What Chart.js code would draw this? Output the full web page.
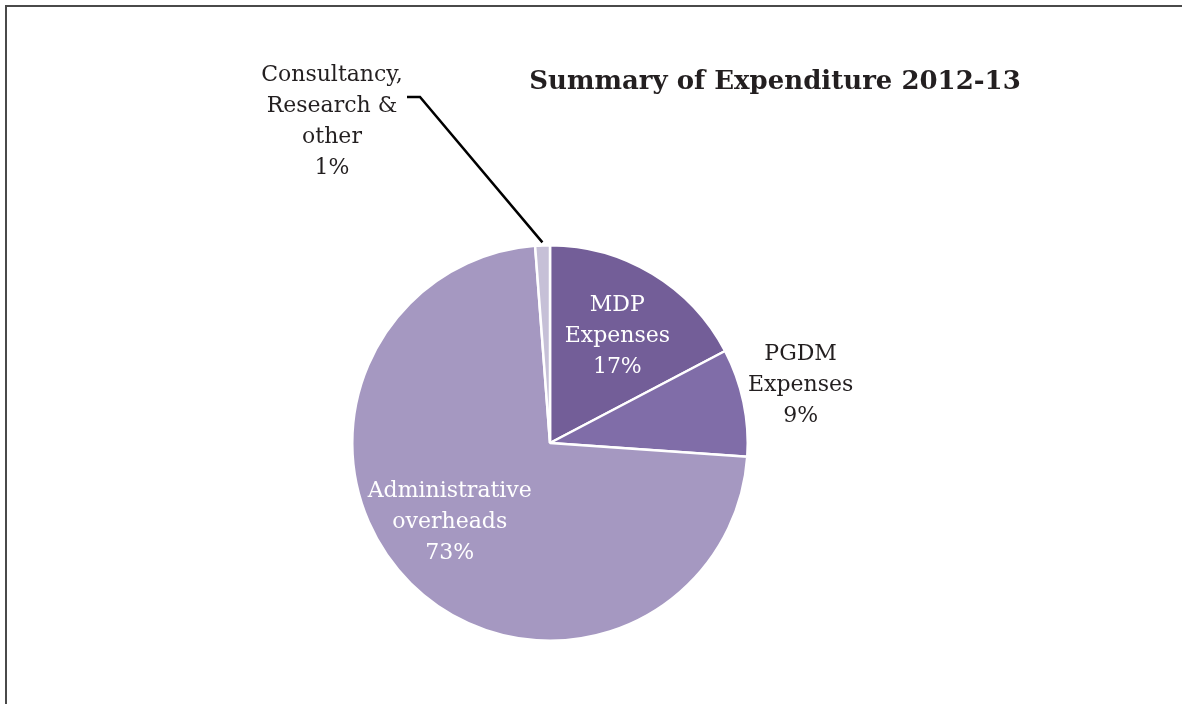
<!DOCTYPE html>
<html>
<head>
<meta charset="utf-8">
<script src="https://cdn.jsdelivr.net/npm/chart.js@4.4.1/dist/chart.umd.min.js"></script>
<style>
  html, body { margin: 0; padding: 0; background: #fff; overflow: hidden; }
  canvas { display: block; }
</style>
</head>
<body>
<canvas id="c" width="1182" height="704"></canvas>
<script>
const chartTitle = 'Summary of Expenditure 2012-13';
const categories = [['MDP', 'Expenses'], ['PGDM', 'Expenses'], ['Administrative', 'overheads'], ['Consultancy,', 'Research &', 'other']];
const shareValues = [17.3, 8.8, 72.7, 1.2];
const percentLabels = ['17%', '9%', '73%', '1%'];
const sliceColors = ['#735E98', '#806DA8', '#A598C1', '#C6C0D7'];

// label layout: inside (white) / outside (dark) / leader (with line)
const labelLayout = [
  { mode: 'inside', r: 0.64, nudge: 1 },
  { mode: 'outside', r: 1.30, nudge: -1 },
  { mode: 'inside', r: 0.645, nudge: 7 },
  { mode: 'leader', x: 332, y: 75 }
];

const FONT = '"DejaVu Serif", "Liberation Serif", serif';
const LABEL_SIZE = 22;
const LINE_H = 31;

const framePlugin = {
  id: 'frame',
  beforeDraw(chart) {
    const ctx = chart.ctx;
    ctx.save();
    ctx.strokeStyle = '#4a4a4a';
    ctx.lineWidth = 2;
    ctx.beginPath();
    ctx.moveTo(6, 704);
    ctx.lineTo(6, 6);
    ctx.lineTo(1182, 6);
    ctx.stroke();
    ctx.restore();
  }
};

const labelPlugin = {
  id: 'sliceLabels',
  afterDatasetsDraw(chart) {
    const ctx = chart.ctx;
    const meta = chart.getDatasetMeta(0);
    ctx.save();
    ctx.textAlign = 'center';
    ctx.textBaseline = 'middle';
    ctx.font = LABEL_SIZE + 'px ' + FONT;
    meta.data.forEach((arc, i) => {
      const lay = labelLayout[i];
      const lines = categories[i].concat([percentLabels[i]]);
      const p = arc.getProps(['x', 'y', 'startAngle', 'endAngle', 'outerRadius']);
      const mid = (p.startAngle + p.endAngle) / 2;
      if (lay.mode === 'leader') {
        ctx.fillStyle = '#231F20';
        lines.forEach((t, k) => ctx.fillText(t, lay.x, lay.y + k * LINE_H));
        const ex = p.x + Math.cos(mid) * (p.outerRadius + 3);
        const ey = p.y + Math.sin(mid) * (p.outerRadius + 3);
        ctx.beginPath();
        ctx.strokeStyle = '#000';
        ctx.lineWidth = 2.5;
        ctx.moveTo(lay.x + 75, lay.y + 22);
        ctx.lineTo(lay.x + 88, lay.y + 22);
        ctx.lineTo(ex, ey);
        ctx.stroke();
      } else {
        const a = mid + lay.nudge * Math.PI / 180;
        const cx = p.x + Math.cos(a) * p.outerRadius * lay.r;
        const cy = p.y + Math.sin(a) * p.outerRadius * lay.r;
        ctx.fillStyle = lay.mode === 'inside' ? '#FFFFFF' : '#231F20';
        const top = cy - (lines.length - 1) * LINE_H / 2;
        lines.forEach((t, k) => ctx.fillText(t, cx, top + k * LINE_H));
      }
    });
    // title
    ctx.font = 'bold 26px ' + FONT;
    ctx.fillStyle = '#231F20';
    ctx.fillText(chartTitle, 775, 82);
    ctx.restore();
  }
};

new Chart(document.getElementById('c'), {
  type: 'pie',
  data: {
    labels: categories.map(c => c.join(' ')),
    datasets: [{
      data: shareValues,
      backgroundColor: sliceColors,
      borderColor: '#FFFFFF',
      borderWidth: 2.5
    }]
  },
  options: {
    responsive: false,
    animation: false,
    layout: { padding: { top: 244, bottom: 62, left: 351, right: 433 } },
    plugins: {
      legend: { display: false },
      tooltip: { enabled: false },
      title: { display: false }
    }
  },
  plugins: [framePlugin, labelPlugin]
});
</script>
</body>
</html>
